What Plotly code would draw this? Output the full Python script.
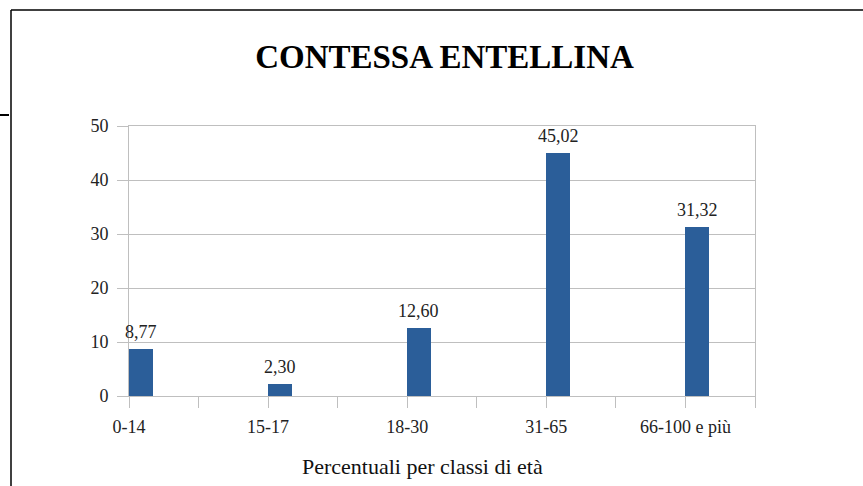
import plotly.graph_objects as go

# ---- data ----
categories = ["0-14", "15-17", "18-30", "31-65", "66-100 e più"]
values = [8.77, 2.30, 12.60, 45.02, 31.32]
y_ticks = [0, 10, 20, 30, 40, 50]
title_text = "CONTESSA ENTELLINA"
x_title = "Percentuali per classi di età"

W, H = 863, 486
L, R, T, B = 129, 108, 126, 90
PW = W - L - R

FONT = "Liberation Serif"
BAR = "#2b5e99"
GRID = "#bfbfbf"

# each category occupies two slots on the axis; bars start at the slot tick
xpos = [2 * i for i in range(len(categories))]
nslots = 2 * len(categories) - 1
labels = [f"{v:.2f}".replace(".", ",") for v in values]

fig = go.Figure()
fig.add_trace(go.Bar(
    x=xpos, y=values, width=0.338, offset=0,
    marker=dict(color=BAR, line=dict(width=0)),
    hoverinfo="skip",
))

for x, v, t in zip(xpos, values, labels):
    fig.add_annotation(x=x + 0.169, y=v, text=t, showarrow=False,
                       xanchor="center", yanchor="bottom", yshift=5,
                       font=dict(family=FONT, size=18, color="#222222"))

tickvals = list(range(nslots + 1))
ticktext = [categories[i // 2] if i % 2 == 0 and i // 2 < len(categories) else "" for i in tickvals]

fig.update_layout(
    width=W, height=H,
    margin=dict(l=L, r=R, t=T, b=B),
    paper_bgcolor="white", plot_bgcolor="white",
    showlegend=False,
    font=dict(family=FONT, size=18, color="#222222"),
    title=dict(text=f"<b>{title_text}</b>", x=444.5 / W, xanchor="center",
               y=1 - 56 / H, yanchor="middle", yref="container",
               font=dict(family=FONT, size=33, color="#000000")),
    xaxis=dict(range=[0, nslots], tickmode="array", tickvals=tickvals, ticktext=ticktext,
               showgrid=False, zeroline=False, showline=True, linecolor=GRID, linewidth=1,
               mirror=True, ticks="outside", ticklen=11, tickcolor=GRID, tickwidth=1,
               tickfont=dict(family=FONT, size=18, color="#222222"),
               ticklabelstandoff=3),
    yaxis=dict(range=[0, 50], tickmode="array", tickvals=y_ticks,
               showgrid=True, gridcolor=GRID, gridwidth=1, zeroline=False,
               showline=True, linecolor=GRID, linewidth=1, mirror=True,
               ticks="outside", ticklen=11, tickcolor=GRID, tickwidth=1,
               tickfont=dict(family=FONT, size=18, color="#222222"),
               ticklabelstandoff=5),
    bargap=0,
)

# x-axis title (offset to the left as in the reference)
fig.add_annotation(xref="paper", yref="paper", x=(422 - L) / PW, y=-(466 - (H - B)) / (H - T - B),
                   text=x_title, showarrow=False, xanchor="center", yanchor="middle",
                   font=dict(family=FONT, size=22, color="#111111"))

# outer frame of the chart object and small line at left
def px_x(p):
    return (p - L) / PW

def px_y(p):
    return (H - B - p) / (H - T - B)

fig.add_shape(type="line", xref="paper", yref="paper", x0=px_x(11), x1=px_x(11),
              y0=px_y(10), y1=px_y(H + 5), line=dict(color="black", width=1.5))
fig.add_shape(type="line", xref="paper", yref="paper", x0=px_x(11), x1=px_x(W + 5),
              y0=px_y(10), y1=px_y(10), line=dict(color="black", width=1.5))
fig.add_shape(type="line", xref="paper", yref="paper", x0=px_x(0), x1=px_x(9),
              y0=px_y(115), y1=px_y(115), line=dict(color="black", width=2))

fig.write_html("out.html", config={"displayModeBar": False},
               post_script="document.body.style.margin='0';document.body.style.overflow='hidden';")
